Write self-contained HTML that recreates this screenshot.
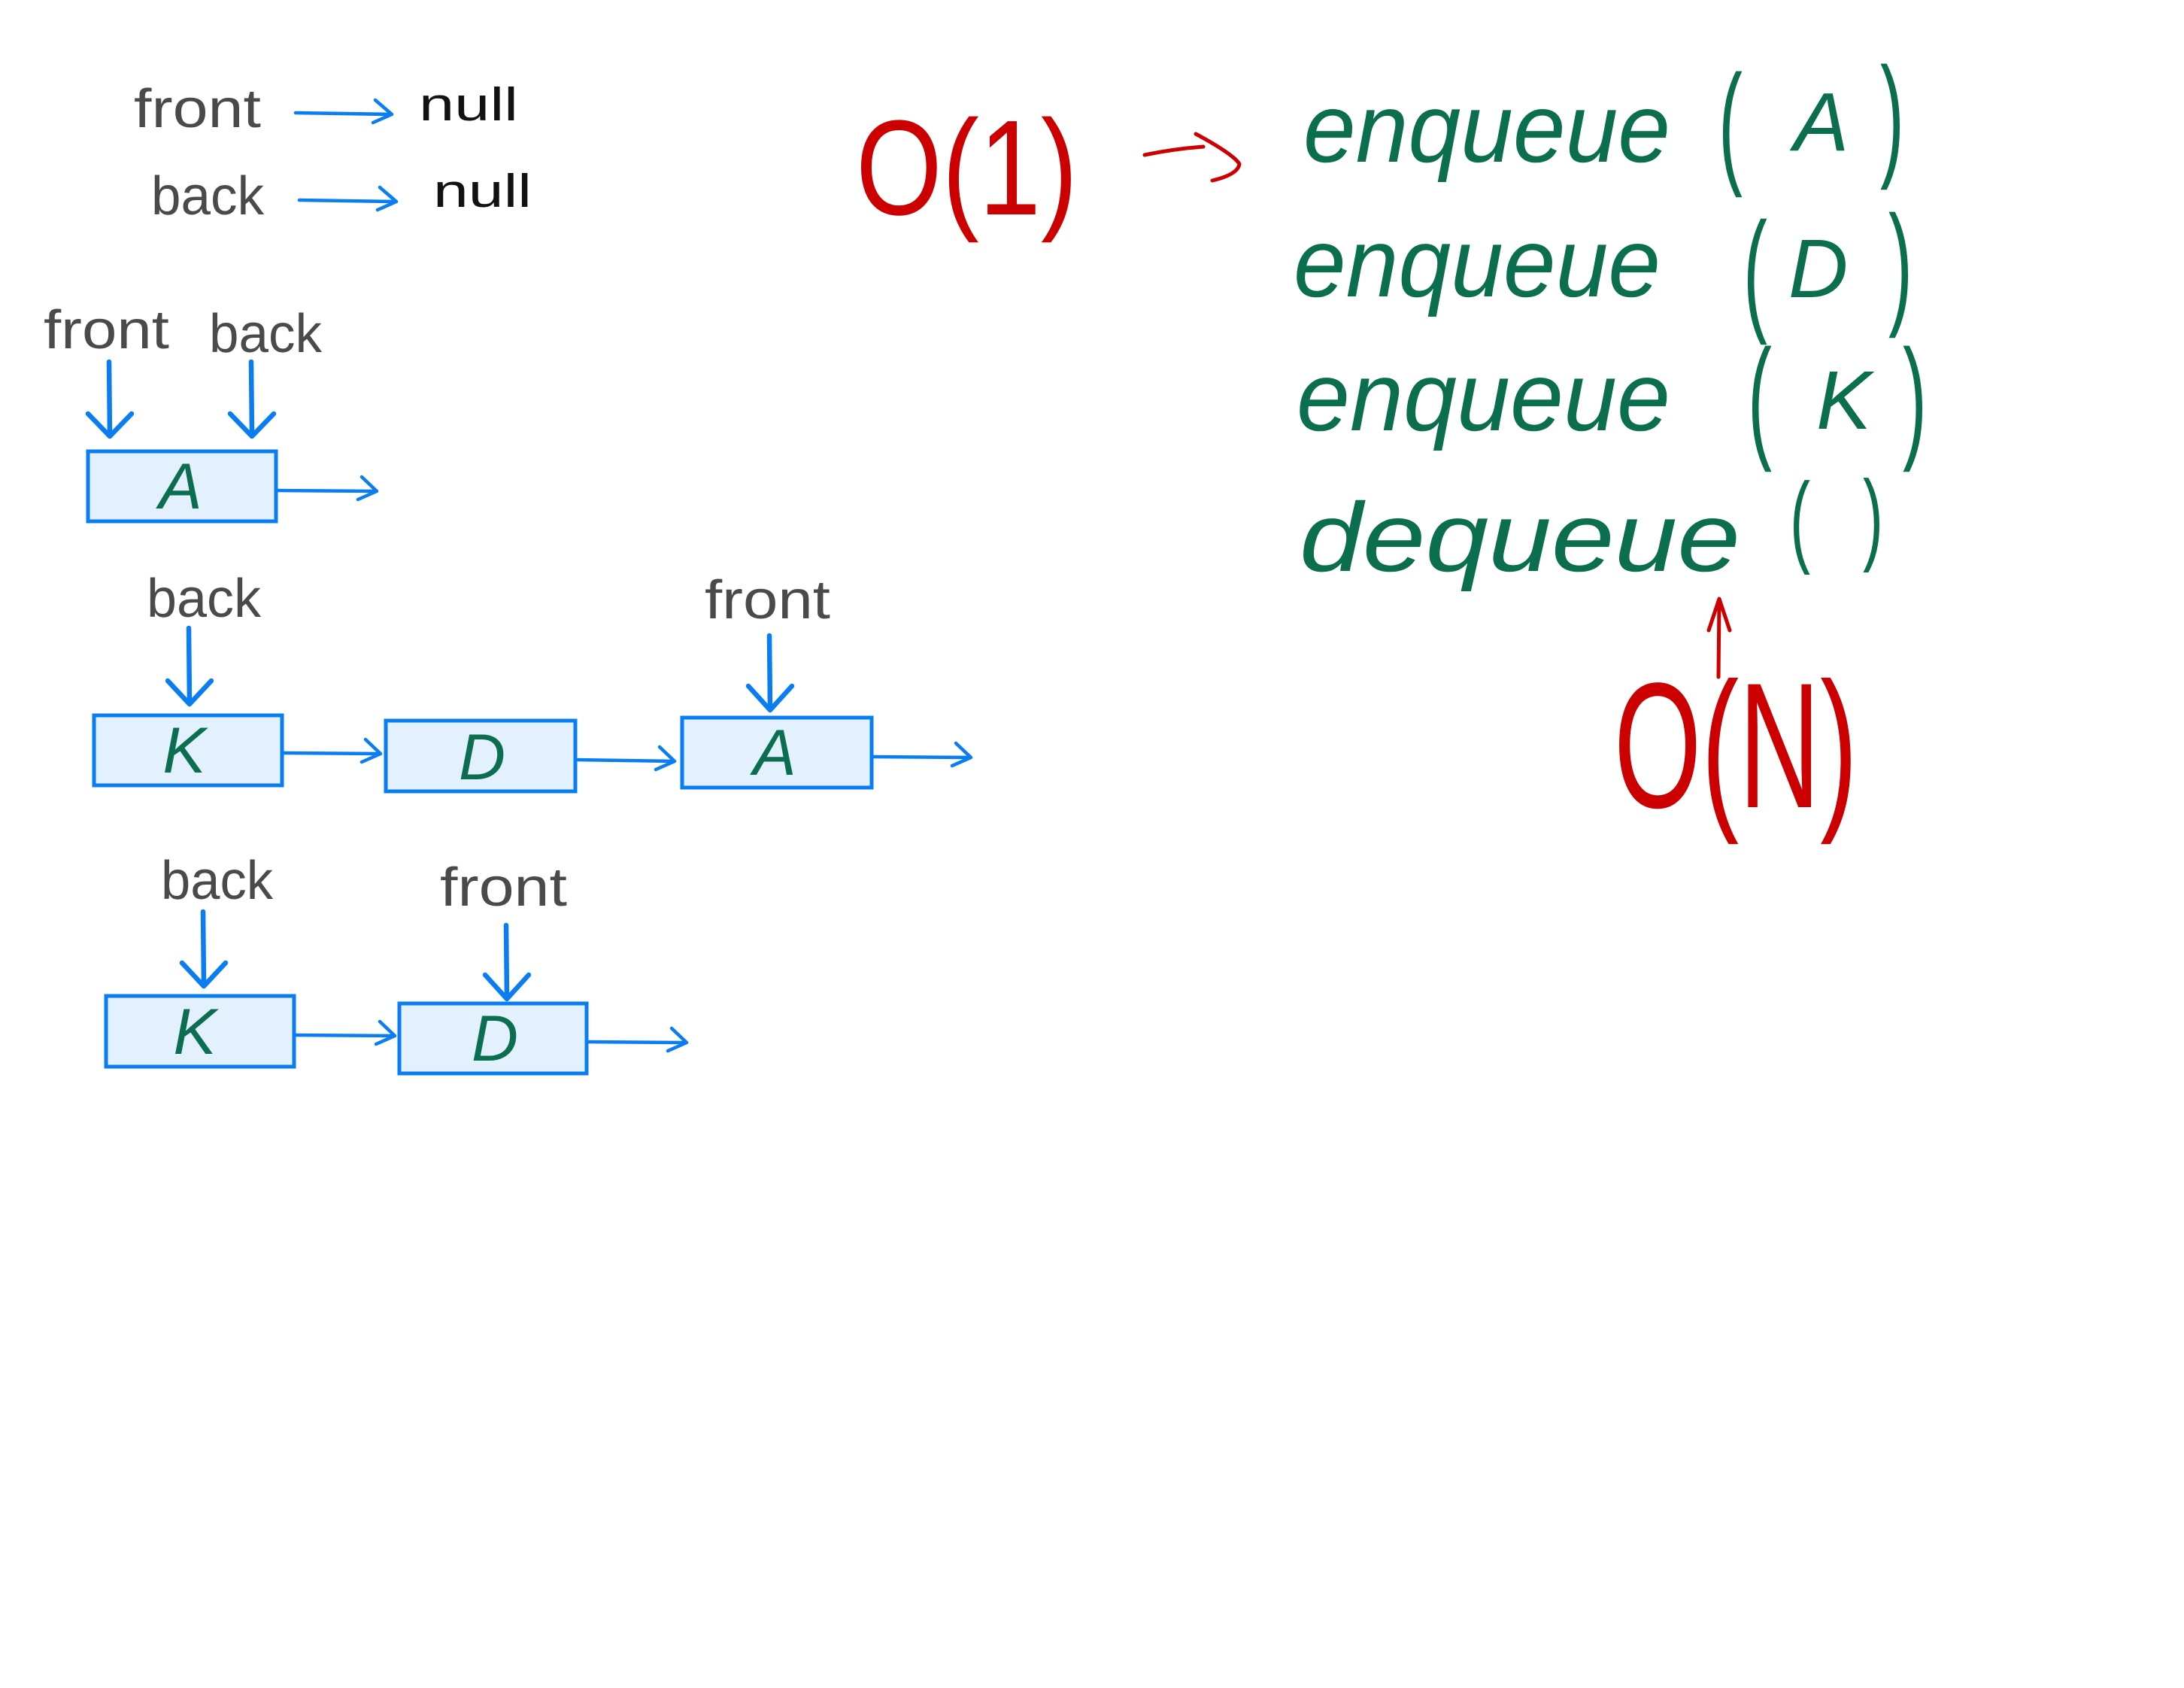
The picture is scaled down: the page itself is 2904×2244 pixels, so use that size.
<!DOCTYPE html>
<html><head><meta charset="utf-8"><style>
html,body{margin:0;padding:0;background:#fff;}
svg{display:block;}
text{font-family:"Liberation Sans","DejaVu Sans",sans-serif;}
</style></head><body>
<svg width="2904" height="2244" viewBox="0 0 2904 2244" xmlns="http://www.w3.org/2000/svg">
<rect width="2904" height="2244" fill="#fff"/>
<g fill="none" stroke="#0a7ef0" stroke-width="4.5" stroke-linecap="round" stroke-linejoin="round">
  <path d="M393 150 L521 152 M499 133 L521 152 L496 163"/>
  <path d="M398 266 L527 268 M505 249 L527 268 L502 279"/>
  <path d="M367 652 L501 653 M481 634 L501 653 L476 664"/>
  <path d="M375 1001 L506 1002 M486 983 L506 1002 L481 1013"/>
  <path d="M765 1010 L897 1012 M877 993 L897 1012 L872 1023"/>
  <path d="M1159 1006 L1291 1007 M1271 988 L1291 1007 L1266 1018"/>
  <path d="M391 1376 L525 1377 M505 1358 L525 1377 L500 1388"/>
  <path d="M780 1385 L913 1386 M893 1367 L913 1386 L888 1397"/>
</g>
<g fill="none" stroke="#0a7ef0" stroke-width="6.5" stroke-linecap="round" stroke-linejoin="round">
  <path d="M145 481 L146 578 M117 550 L146 580 L175 550"/>
  <path d="M334 481 L335 578 M306 550 L335 580 L364 550"/>
  <path d="M251 835 L252 934 M223 905 L252 936 L281 905"/>
  <path d="M1023 845 L1024 941 M995 912 L1024 944 L1053 912"/>
  <path d="M270 1212 L271 1309 M242 1280 L271 1311 L300 1280"/>
  <path d="M673 1230 L674 1325 M645 1296 L674 1328 L703 1296"/>
</g>
<g fill="#e3f0fd" stroke="#0a7ef0" stroke-width="5">
  <rect x="117" y="600" width="250" height="93"/>
  <rect x="125" y="951" width="250" height="93"/>
  <rect x="513" y="958" width="252" height="94"/>
  <rect x="907" y="954" width="252" height="93"/>
  <rect x="141" y="1324" width="250" height="94"/>
  <rect x="531" y="1334" width="249" height="93"/>
</g>
<g fill="#0b6e4f" font-size="86" text-anchor="middle" font-style="italic">
  <text x="240" y="676">A</text>
  <text x="245" y="1027">K</text>
  <text x="641" y="1036">D</text>
  <text x="1030" y="1030">A</text>
  <text x="259" y="1401">K</text>
  <text x="658" y="1410">D</text>
</g>
<g fill="#4a4a4a" font-size="72">
  <text x="178" y="169" textLength="169" lengthAdjust="spacingAndGlyphs">front</text>
  <text x="201" y="285" textLength="150" lengthAdjust="spacingAndGlyphs">back</text>
  <text x="58" y="463" textLength="167" lengthAdjust="spacingAndGlyphs">front</text>
  <text x="278" y="468" textLength="150" lengthAdjust="spacingAndGlyphs">back</text>
  <text x="195" y="820" textLength="152" lengthAdjust="spacingAndGlyphs">back</text>
  <text x="937" y="822" textLength="167" lengthAdjust="spacingAndGlyphs">front</text>
  <text x="214" y="1195" textLength="149" lengthAdjust="spacingAndGlyphs">back</text>
  <text x="585" y="1204" textLength="169" lengthAdjust="spacingAndGlyphs">front</text>
</g>
<g fill="#111" font-size="62">
  <text x="557" y="160" textLength="132" lengthAdjust="spacingAndGlyphs">null</text>
  <text x="576" y="275" textLength="131" lengthAdjust="spacingAndGlyphs">null</text>
</g>
<!-- red -->
<g fill="#cc0000">
  <text transform="translate(1138,285) scale(1,1.2)" font-size="150" textLength="295" lengthAdjust="spacingAndGlyphs">O(1)</text>
  <text transform="translate(2146,1073) scale(1,1.25)" font-size="190" textLength="324" lengthAdjust="spacingAndGlyphs">O(N)</text>
</g>
<g fill="none" stroke="#cc0000" stroke-width="5" stroke-linecap="round" stroke-linejoin="round">
  <path d="M1522 206 Q1560 198 1600 195 M1590 178 Q1640 205 1648 218 Q1646 232 1612 240"/>
  <path d="M2285 900 L2286 800 M2272 838 L2286 796 L2300 838"/>
</g>
<!-- green -->
<g fill="#0b6e4f" font-size="130" font-style="italic">
  <text x="1733" y="215" textLength="488" lengthAdjust="spacingAndGlyphs">enqueue</text>
  <text x="2385" y="200" font-size="110">A</text>
  <text x="1720" y="394" textLength="488" lengthAdjust="spacingAndGlyphs">enqueue</text>
  <text x="2378" y="395" font-size="110">D</text>
  <text x="1724" y="572" textLength="497" lengthAdjust="spacingAndGlyphs">enqueue</text>
  <text x="2415" y="570" font-size="110">K</text>
  <text x="1728" y="759" textLength="586" lengthAdjust="spacingAndGlyphs">dequeue</text>
</g>
<g fill="#0b6e4f" font-size="120">
  <text transform="translate(2285,225) scale(0.8,1.5)">(</text>
  <text transform="translate(2500,215) scale(0.8,1.5)">)</text>
  <text transform="translate(2318,421) scale(0.8,1.5)">(</text>
  <text transform="translate(2511,412) scale(0.8,1.5)">)</text>
  <text transform="translate(2324,590) scale(0.8,1.5)">(</text>
  <text transform="translate(2530,590) scale(0.8,1.5)">)</text>
  <text transform="translate(2380,736) scale(0.9,1.5)" font-size="90">(</text>
  <text transform="translate(2477,733) scale(0.9,1.5)" font-size="90">)</text>
</g>
</svg>
</body></html>
